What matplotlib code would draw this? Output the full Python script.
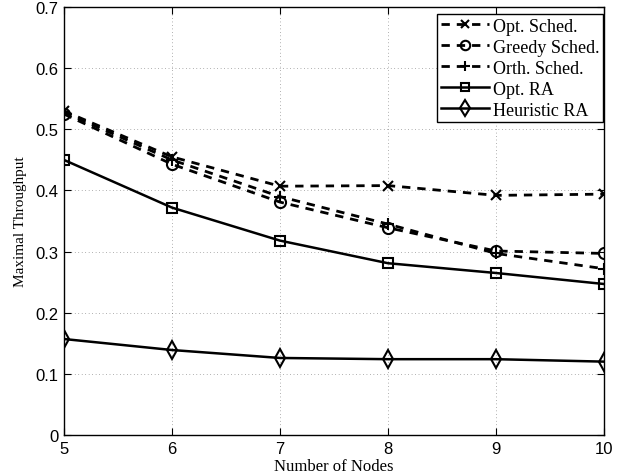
import matplotlib
matplotlib.use("Agg")
import matplotlib.pyplot as plt

nodes = [5, 6, 7, 8, 9, 10]
opt_sched = [0.530, 0.455, 0.407, 0.408, 0.392, 0.394]
greedy_sched = [0.525, 0.443, 0.381, 0.339, 0.301, 0.297]
orth_sched = [0.528, 0.450, 0.390, 0.345, 0.297, 0.272]
opt_ra = [0.450, 0.372, 0.318, 0.281, 0.265, 0.247]
heur_ra = [0.157, 0.139, 0.126, 0.124, 0.124, 0.120]

labels = ["Opt. Sched.", "Greedy Sched.", "Orth. Sched.", "Opt. RA", "Heuristic RA"]
xticks = [5, 6, 7, 8, 9, 10]
yticks = [0, 0.1, 0.2, 0.3, 0.4, 0.5, 0.6, 0.7]
ytick_labels = ["0", "0.1", "0.2", "0.3", "0.4", "0.5", "0.6", "0.7"]

fig = plt.figure(figsize=(6.29, 4.77), dpi=100)
ax = fig.add_axes([0.1017, 0.086, 0.8585, 0.897])

dash = (0, (3.0, 2.5))
kw = dict(color="black", markerfacecolor="none", markeredgewidth=1.5, markersize=7)
ax.plot(nodes, opt_sched, linestyle=dash, linewidth=2.0, marker="x", label=labels[0], **kw)
ax.plot(nodes, greedy_sched, linestyle=dash, linewidth=2.0, marker="o", label=labels[1], **{**kw, "markersize": 8})
ax.plot(nodes, orth_sched, linestyle=dash, linewidth=2.0, marker="+", label=labels[2], **{**kw, "markersize": 8})
ax.plot(nodes, opt_ra, linestyle="-", linewidth=1.8, marker="s", label=labels[3], **kw)
ax.plot(nodes, heur_ra, linestyle="-", linewidth=1.8, marker="d", label=labels[4], **{**kw, "markersize": 9})

ax.set_xlim(5, 10)
ax.set_ylim(0, 0.7)
ax.set_xticks(xticks)
ax.set_yticks(yticks)
ax.set_yticklabels(ytick_labels)
ax.grid(True, linestyle=(0, (1, 4)), color="black", linewidth=0.5, alpha=0.6)
ax.tick_params(direction="in", top=True, right=True, labelsize=12, length=5, pad=4)
for t in ax.get_xticklabels() + ax.get_yticklabels():
    t.set_family("Liberation Sans")
for s in ax.spines.values():
    s.set_linewidth(1.0)

ax.set_xlabel("Number of Nodes", family="Liberation Serif", fontsize=12, labelpad=2)
ax.set_ylabel("Maximal Throughput", family="Liberation Serif", fontsize=11, labelpad=6)

leg = ax.legend(loc="upper right", bbox_to_anchor=(603 / 629, 1 - 15 / 477),
                bbox_transform=fig.transFigure,
                prop={"family": "Liberation Serif", "size": 13},
                handlelength=2.7, handletextpad=0.2, labelspacing=0.22,
                borderpad=0.2, borderaxespad=0.0, fancybox=False, framealpha=1,
                markerscale=0.85)
leg.get_frame().set_edgecolor("black")
leg.get_frame().set_linewidth(1.0)

fig.savefig("out.png", dpi=100)
